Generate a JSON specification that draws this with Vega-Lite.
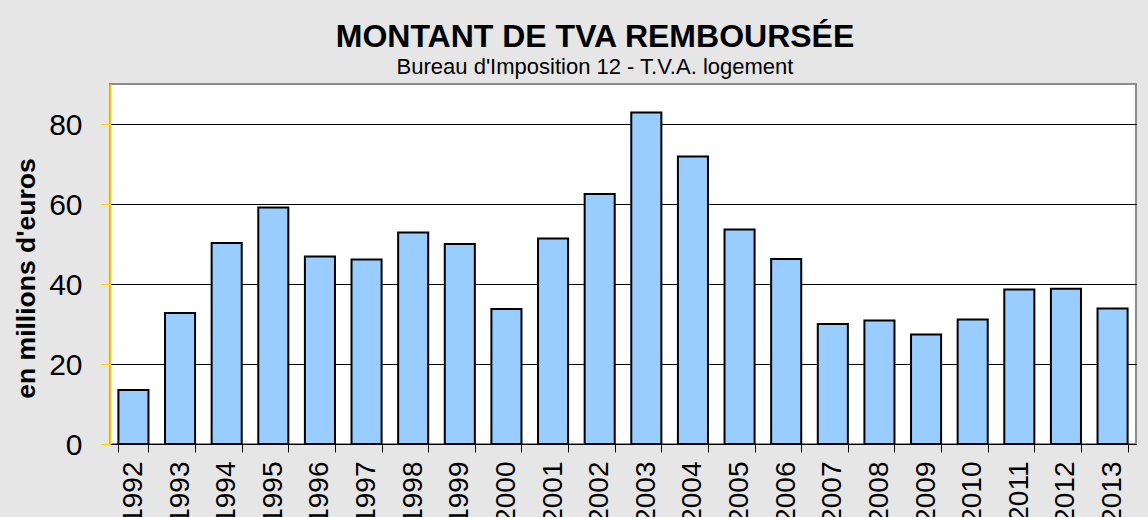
{
  "$schema": "https://vega.github.io/schema/vega-lite/v6.json",
  "width": 1026,
  "height": 360,
  "autosize": {"type": "none"},
  "padding": {"left": 110, "top": 84, "right": 12, "bottom": 73},
  "background": "#e6e6e6",
  "title": {
    "text": "MONTANT DE TVA REMBOURSÉE",
    "subtitle": "Bureau d'Imposition 12 - T.V.A. logement",
    "anchor": "middle",
    "frame": "group",
    "dx": -28,
    "offset": 5,
    "font": "Liberation Sans",
    "fontSize": 32,
    "fontWeight": "bold",
    "color": "#000000",
    "subtitleFont": "Liberation Sans",
    "subtitleFontSize": 22,
    "subtitleColor": "#000000",
    "subtitlePadding": 3
  },
  "data": {
    "values": [
      {"annee": 1992, "montant": 13.5},
      {"annee": 1993, "montant": 32.75},
      {"annee": 1994, "montant": 50.25},
      {"annee": 1995, "montant": 59.1},
      {"annee": 1996, "montant": 46.9},
      {"annee": 1997, "montant": 46.1},
      {"annee": 1998, "montant": 52.9},
      {"annee": 1999, "montant": 50.0},
      {"annee": 2000, "montant": 33.75},
      {"annee": 2001, "montant": 51.4},
      {"annee": 2002, "montant": 62.5},
      {"annee": 2003, "montant": 82.9},
      {"annee": 2004, "montant": 71.9},
      {"annee": 2005, "montant": 53.6},
      {"annee": 2006, "montant": 46.25},
      {"annee": 2007, "montant": 30.0},
      {"annee": 2008, "montant": 30.9},
      {"annee": 2009, "montant": 27.4},
      {"annee": 2010, "montant": 31.1},
      {"annee": 2011, "montant": 38.6},
      {"annee": 2012, "montant": 38.8},
      {"annee": 2013, "montant": 33.9}
    ]
  },
  "mark": {"type": "bar", "fill": "#99CCFF", "stroke": "#000000", "strokeWidth": 2},
  "encoding": {
    "x": {
      "field": "annee",
      "type": "ordinal",
      "scale": {"paddingInner": 0.355, "paddingOuter": 0.18},
      "axis": {
        "title": null,
        "labelAngle": -90,
        "labelFont": "Liberation Sans",
        "labelFontSize": 28,
        "labelColor": "#000000",
        "labelPadding": 9,
        "tickSize": 8,
        "tickBand": "extent",
        "tickColor": "#000000",
        "domainColor": "#000000",
        "domainWidth": 1,
        "grid": false
      }
    },
    "y": {
      "field": "montant",
      "type": "quantitative",
      "scale": {"domain": [0, 90], "nice": false},
      "axis": {
        "values": [0, 20, 40, 60, 80],
        "title": "en millions d'euros",
        "titleFont": "Liberation Sans",
        "titleFontSize": 26.5,
        "titleFontWeight": "bold",
        "titleColor": "#000000",
        "titleX": -76,
        "titleY": 194,
        "titleAlign": "center",
        "titleBaseline": "alphabetic",
        "titleAngle": 270,
        "labelFont": "Liberation Sans",
        "labelFontSize": 30,
        "labelColor": "#000000",
        "labelPadding": 19,
        "labelOffset": 1.5,
        "tickSize": 9,
        "tickColor": "#FFCC00",
        "domainColor": "#FFCC00",
        "domainWidth": 2,
        "grid": true,
        "gridColor": "#000000",
        "gridWidth": 1,
        "gridOpacity": 1
      }
    }
  },
  "config": {
    "view": {"fill": "#ffffff", "stroke": "#8c8c8c", "strokeWidth": 2}
  }
}
